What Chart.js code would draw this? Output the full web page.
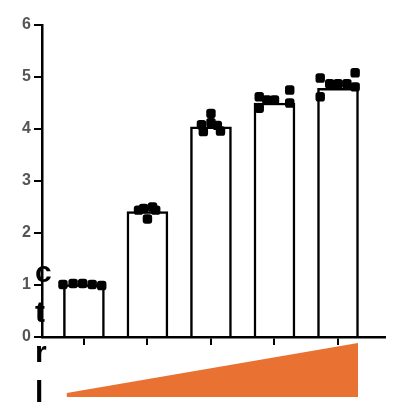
<!DOCTYPE html>
<html>
<head>
<meta charset="utf-8">
<script src="https://cdn.jsdelivr.net/npm/chart.js@4.4.1/dist/chart.umd.min.js"></script>
<style>
body{margin:0;background:#fff;}
#wrap{position:relative;width:411px;height:415px;}
#etiqueta{position:absolute;left:35px;top:252px;font:bold 30px "Liberation Sans",Arial,sans-serif;line-height:40px;color:#000;}
</style>
</head>
<body>
<div id="wrap">
<canvas id="bar"></canvas>
<div id="etiqueta">c<br>t<br>r<br>l</div>
</div>
<script>
// grupos (dosis creciente, sin etiqueta en el eje)
const grupos=[0,1,2,3,4];
const medias=[1.01,2.41,4.04,4.5,4.78];

// puntos individuales: desplazamiento horizontal y valor
const desp1=[-0.33,-0.17,-0.02,0.13,0.28];
const vals1=[1.01,1.03,1.03,1.01,0.99];
const desp2=[-0.14,-0.06,0,0.08,0.13];
const vals2=[2.44,2.47,2.27,2.5,2.44];
const desp3=[-0.15,-0.12,0,0,0.1,0.15];
const vals3=[4.08,3.95,4.3,4.12,4.07,3.96];
const desp4=[-0.24,-0.24,-0.12,0,0.24,0.24];
const vals4=[4.62,4.4,4.56,4.56,4.75,4.5];
const desp5=[-0.28,-0.28,-0.13,0,0.14,0.27,0.27];
const vals5=[4.98,4.62,4.87,4.87,4.87,5.08,4.81];

const yTicks=[0,1,2,3,4,5,6];

let desps=[desp1,desp2,desp3,desp4,desp5];
let valss=[vals1,vals2,vals3,vals4,vals5];
let puntos=[];
grupos.forEach((g,i)=>{
desps[i].forEach((d,j)=>{
puntos.push({x:g+d,y:valss[i][j]});
});
});

const triangulo={
id:"triangulo",
afterDraw(chart){
let ctx=chart.ctx;
let xs=chart.scales.x;
let b=chart.chartArea.bottom;
let x0=xs.getPixelForValue(-0.27);
let x1=xs.getPixelForValue(4)+20;
ctx.save();
ctx.fillStyle="#E97132";
ctx.beginPath();
ctx.moveTo(x0,b+56);
ctx.lineTo(x1,b+6);
ctx.lineTo(x1,b+60);
ctx.lineTo(x0,b+60);
ctx.closePath();
ctx.fill();
ctx.restore();
}
};

new Chart(document.getElementById("bar"),{
type:"bar",
data:{
datasets:[
{
type:"scatter",
data:puntos,
pointStyle:"rectRounded",
pointRadius:5.5,
backgroundColor:"#000",
borderColor:"#000",
borderWidth:0,
order:0
},
{
data:grupos.map((g,i)=>({x:g,y:medias[i]})),
backgroundColor:"#fff",
borderColor:"#000",
borderWidth:2.5,
barThickness:41,
order:1
}
]
},
options:{
responsive:true,
maintainAspectRatio:false,
animation:false,
layout:{padding:{top:25,right:26,left:0,bottom:0}},
plugins:{legend:{display:false},tooltip:{enabled:false}},
scales:{
x:{
type:"linear",
offset:false,
min:-0.66,
max:4.74,
ticks:{stepSize:1,callback:()=>"",font:{size:1}},
afterBuildTicks:s=>{s.ticks=s.ticks.filter(t=>Number.isInteger(t.value));},
afterFit:s=>{s.height=78;},
grid:{offset:false,drawOnChartArea:false,drawTicks:true,tickLength:8,color:"#000",lineWidth:2},
border:{display:true,color:"#000",width:2.5}
},
y:{
min:0,
max:6,
afterBuildTicks:s=>{s.ticks=yTicks.map(v=>({value:v}));},
afterFit:s=>{s.width=42;},
ticks:{color:"#555",padding:3,font:{family:"'Liberation Sans', Arial",size:16,weight:"bold"}},
grid:{drawOnChartArea:false,drawTicks:true,tickLength:8,color:"#000",lineWidth:2},
border:{display:true,color:"#000",width:2.5}
}
}
},
plugins:[triangulo]
});
</script>
</body>
</html>
